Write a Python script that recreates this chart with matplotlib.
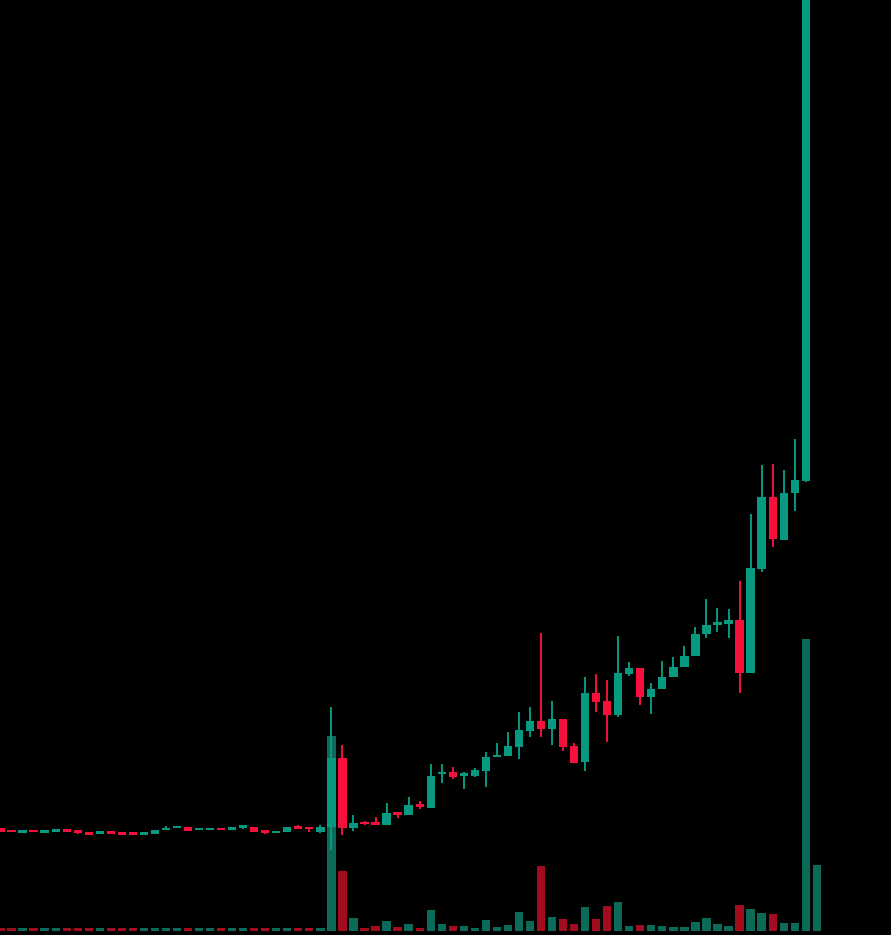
import matplotlib
matplotlib.use("Agg")
import matplotlib.pyplot as plt
import numpy as np

# ---- data (price units, volume in thousands) ----
opens = [1.07, 1.045, 1.03, 1.045, 1.03, 1.04, 1.053, 1.043, 1.02, 1.017,
         1.033, 1.02, 1.02, 1.01, 1.01, 1.047, 1.073, 1.077, 1.053, 1.053,
         1.067, 1.06, 1.08, 1.083, 1.047, 1.02, 1.033, 1.083, 1.077, 1.033,
         1.08, 1.767, 1.067, 1.13, 1.127, 1.10, 1.227, 1.20, 1.313, 1.273,
         1.61, 1.633, 1.597, 1.59, 1.643, 1.777, 1.793, 1.883, 2.043, 2.14,
         2.057, 2.16, 1.89, 1.733, 2.423, 2.34, 2.20, 2.613, 2.67, 2.383,
         2.457, 2.577, 2.677, 2.79, 3.01, 3.107, 3.107, 3.15, 2.617, 3.66,
         4.377, 3.95, 4.417, 4.54, 11.8]
closes = [1.03, 1.03, 1.04, 1.03, 1.04, 1.053, 1.037, 1.027, 1.007, 1.03,
          1.02, 1.007, 1.007, 1.023, 1.053, 1.073, 1.083, 1.043, 1.067, 1.067,
          1.053, 1.073, 1.093, 1.027, 1.027, 1.04, 1.077, 1.07, 1.06, 1.083,
          1.767, 1.073, 1.123, 1.11, 1.10, 1.217, 1.207, 1.297, 1.283, 1.59,
          1.63, 1.583, 1.617, 1.65, 1.783, 1.80, 1.89, 2.05, 2.14, 2.057,
          2.16, 1.877, 1.723, 2.423, 2.333, 2.20, 2.623, 2.67, 2.383, 2.46,
          2.577, 2.677, 2.79, 3.01, 3.10, 3.123, 3.15, 2.617, 3.667, 4.377,
          3.957, 4.423, 4.55, 12.0, 13.0]
highs = [1.07, 1.045, 1.04, 1.045, 1.04, 1.053, 1.053, 1.043, 1.02, 1.03,
         1.033, 1.02, 1.02, 1.023, 1.053, 1.09, 1.083, 1.077, 1.067, 1.067,
         1.067, 1.073, 1.093, 1.083, 1.047, 1.04, 1.077, 1.10, 1.077, 1.10,
         2.28, 1.90, 1.20, 1.143, 1.177, 1.323, 1.227, 1.383, 1.343, 1.71,
         1.71, 1.683, 1.633, 1.67, 1.827, 1.923, 2.033, 2.227, 2.277, 3.023,
         2.343, 2.16, 1.923, 2.577, 2.61, 2.55, 2.99, 2.733, 2.67, 2.517,
         2.74, 2.783, 2.89, 3.083, 3.36, 3.267, 3.26, 3.54, 4.207, 4.70,
         4.71, 4.65, 4.96, 12.5, 13.6]
lows = [1.03, 1.03, 1.03, 1.03, 1.03, 1.04, 1.037, 1.01, 1.007, 1.017,
        1.02, 1.007, 1.007, 1.01, 1.01, 1.047, 1.073, 1.043, 1.053, 1.053,
        1.053, 1.06, 1.06, 1.027, 1.013, 1.02, 1.033, 1.06, 1.027, 1.02,
        0.85, 1.00, 1.043, 1.097, 1.10, 1.10, 1.167, 1.20, 1.257, 1.273,
        1.523, 1.557, 1.457, 1.583, 1.477, 1.777, 1.793, 1.757, 1.983, 1.983,
        1.90, 1.84, 1.723, 1.643, 2.233, 1.933, 2.183, 2.59, 2.30, 2.21,
        2.457, 2.577, 2.677, 2.79, 2.967, 3.033, 2.967, 2.423, 2.617, 3.627,
        3.883, 3.95, 4.24, 4.53, 11.0]
volumes = [3.0, 3.0, 3.0, 3.0, 3.0, 3.0, 3.0, 3.0, 3.0, 3.0,
           3.0, 3.0, 3.0, 3.0, 3.0, 3.0, 3.0, 3.0, 3.0, 3.0,
           3.0, 3.0, 3.0, 3.0, 3.0, 3.0, 3.0, 3.0, 3.0, 3.0,
           195, 60, 12.7, 2.7, 5, 10, 3.7, 7, 2.7, 21,
           7, 5, 5, 3, 11, 3.7, 6, 19, 10, 65.3,
           13.7, 11.7, 7, 23.7, 12, 25, 29, 5, 6, 6,
           5, 3.7, 3.7, 9.3, 13, 7, 5, 26, 21.7, 18.3,
           17, 8.3, 8.3, 292, 66.3]

UP = "#089981"
DOWN = "#f5113c"
VUP = "#0c6b58"
VDOWN = "#a10d1f"

o = np.array(opens); c = np.array(closes)
h = np.array(highs); l = np.array(lows); v = np.array(volumes)
x = np.arange(len(o))
up = c >= o

fig = plt.figure(figsize=(8.91, 9.35), dpi=100, facecolor="black")
axv = fig.add_axes([0, 0, 1, 1])
axv.set_facecolor("black")
axv.bar(x, v, width=0.75, color=np.where(up, VUP, VDOWN), linewidth=0)
axv.set_ylim(-4, 931)
axv.set_xlim(-0.045, 80.73)
axv.axis("off")

ax = fig.add_axes([0, 0, 1, 1])
ax.patch.set_alpha(0)
cols = np.where(up, UP, DOWN)
ax.vlines(x, l, h, colors=cols, linewidth=1.4)
body_h = np.maximum(np.abs(c - o), 0.024)
mid = (o + c) / 2
ax.bar(x, body_h, bottom=mid - body_h / 2, width=0.75, color=cols, linewidth=0)
ax.set_ylim(0, 9.35)
ax.set_xlim(-0.045, 80.73)
ax.axis("off")

fig.savefig("out.png", dpi=100, facecolor="black")
